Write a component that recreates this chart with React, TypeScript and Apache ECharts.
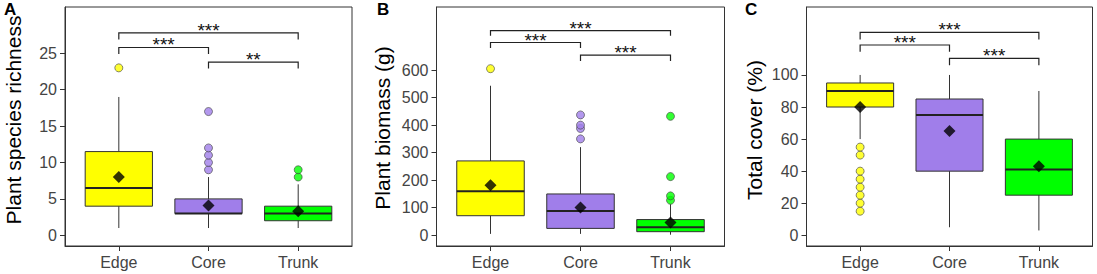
import React, { useEffect, useRef } from "react";
import * as echarts from "echarts";

const categories = ["Edge", "Core", "Trunk"];
const groupColors = ["#FFFF00", "#A07EEA", "#00FF00"];

// [low whisker, Q1, median, Q3, high whisker]
const richnessBox = [
  [1, 4, 6.5, 11.5, 19],
  [1, 3, 3, 5, 8],
  [1, 2, 3, 4, 7],
];
const richnessMean = [8, 4.1, 3.3];
const richnessOutliers = [[23], [9, 10, 11, 12, 17], [8, 9]];
const richnessTicks = [0, 5, 10, 15, 20, 25];
// [from, to, bracket y, tick end y]
const richnessBrackets = [
  [0, 2, 27.8, 26.9],
  [0, 1, 25.8, 24.9],
  [1, 2, 23.8, 22.9],
];
const richnessSig = ["***", "***", "**"];

const biomassBox = [
  [5, 71, 160, 270, 543],
  [5, 25, 88, 150, 320],
  [2, 13, 29, 57, 113],
];
const biomassMean = [182, 101, 46];
const biomassOutliers = [[605], [350, 388, 400, 437], [127, 143, 213, 432]];
const biomassTicks = [0, 100, 200, 300, 400, 500, 600];
const biomassBrackets = [
  [0, 2, 743, 725],
  [0, 1, 700, 680],
  [1, 2, 654, 633],
];
const biomassSig = ["***", "***", "***"];

const coverBox = [
  [60, 80, 90, 95, 100],
  [5, 40, 75, 85, 100],
  [3, 25, 41, 60, 90],
];
const coverMean = [80, 65, 43];
const coverOutliers = [[15, 20, 25, 30, 35, 40, 50, 55], [], []];
const coverTicks = [0, 20, 40, 60, 80, 100];
const coverBrackets = [
  [0, 2, 126.6, 122.2],
  [0, 1, 118.7, 114.5],
  [1, 2, 110.4, 106],
];
const coverSig = ["***", "***", "***"];

const yTitles = ["Plant species richness", "Plant biomass (g)", "Total cover (%)"];
const panelLetters = ["A", "B", "C"];

const FONT = "'Liberation Sans', Arial, Helvetica, sans-serif";

const grids = [
  { left: 65, top: 7, width: 287, height: 239 },
  { left: 436.5, top: 7, width: 288, height: 239 },
  { left: 806.5, top: 7, width: 286, height: 239 },
];
const yRanges = [
  [-1.47, 31.36],
  [-39, 829],
  [-6.7, 142.4],
];
const titlePos = [
  [13, 120],
  [382, 128],
  [754, 130],
];
const letterPos = [
  [4, 1],
  [377, 1],
  [745, 1],
];

function buildPanel(gi: number, box: number[][], means: number[], outliers: number[][], brackets: number[][], sig: string[]) {
  const boxSeries = {
    type: "custom",
    xAxisIndex: gi,
    yAxisIndex: gi,
    z: 2,
    data: box.map((b, i) => [i, ...b]),
    encode: { x: 0, y: [1, 2, 3, 4, 5] },
    renderItem: (params: any, api: any) => {
      const x = api.value(0);
      const lo = api.coord([x, api.value(1)]);
      const q1 = api.coord([x, api.value(2)]);
      const med = api.coord([x, api.value(3)]);
      const q3 = api.coord([x, api.value(4)]);
      const hi = api.coord([x, api.value(5)]);
      const hw = api.size([0.75, 0])[0] / 2;
      return {
        type: "group",
        children: [
          { type: "line", shape: { x1: hi[0], y1: hi[1], x2: lo[0], y2: lo[1] }, style: { stroke: "#333", lineWidth: 1 } },
          {
            type: "rect",
            shape: { x: q3[0] - hw, y: q3[1], width: hw * 2, height: q1[1] - q3[1] },
            style: { fill: groupColors[params.dataIndex], stroke: "#333", lineWidth: 1 },
          },
          { type: "line", shape: { x1: med[0] - hw, y1: med[1], x2: med[0] + hw, y2: med[1] }, style: { stroke: "#222", lineWidth: 2 } },
        ],
      };
    },
  };
  const outData: any[] = [];
  outliers.forEach((arr, i) => arr.forEach((v) => outData.push({ value: [i, v], itemStyle: { color: groupColors[i] } })));
  const outSeries = {
    type: "scatter",
    xAxisIndex: gi,
    yAxisIndex: gi,
    z: 3,
    symbol: "circle",
    symbolSize: 8,
    itemStyle: { borderColor: "#444", borderWidth: 0.8 },
    data: outData,
  };
  const meanSeries = {
    type: "scatter",
    xAxisIndex: gi,
    yAxisIndex: gi,
    z: 4,
    symbol: "diamond",
    symbolSize: 12,
    itemStyle: { color: "#000" },
    data: means.map((m, i) => [i, m]),
  };
  const bracketSeries = {
    type: "custom",
    xAxisIndex: gi,
    yAxisIndex: gi,
    z: 5,
    data: brackets,
    encode: { x: [0, 1], y: [2, 3] },
    renderItem: (params: any, api: any) => {
      const x1 = api.value(0), x2 = api.value(1), yl = api.value(2), ye = api.value(3);
      const a = api.coord([x1, ye]);
      const b = api.coord([x1, yl]);
      const c = api.coord([x2, yl]);
      const d = api.coord([x2, ye]);
      return {
        type: "group",
        children: [
          { type: "polyline", shape: { points: [a, b, c, d] }, style: { stroke: "#222", lineWidth: 1.2, fill: null } },
          {
            type: "text",
            x: (b[0] + c[0]) / 2,
            y: b[1] - 2.5,
            style: { text: sig[params.dataIndex], fill: "#111", fontSize: 19, fontFamily: FONT, align: "center", verticalAlign: "middle", textAlign: "center", textVerticalAlign: "middle" },
          },
        ],
      };
    },
  };
  return [boxSeries, outSeries, meanSeries, bracketSeries];
}

export default function App() {
  const ref = useRef<HTMLDivElement>(null);
  useEffect(() => {
    if (!ref.current) return;
    const chart = echarts.init(ref.current, undefined, { renderer: "svg" });
    const tickSets = [richnessTicks, biomassTicks, coverTicks];
    const option: any = {
      animation: false,
      backgroundColor: "#fff",
      grid: grids.map((g) => ({ ...g, show: true, borderColor: "#333", borderWidth: 1, backgroundColor: "transparent", containLabel: false })),
      xAxis: grids.map((_, gi) => ({
        type: "value",
        gridIndex: gi,
        min: -0.6,
        max: 2.6,
        splitLine: { show: false },
        axisLine: { show: true, onZero: false, lineStyle: { color: "#333", width: 1 } },
        axisTick: { show: true, customValues: [0, 1, 2], length: 5, lineStyle: { color: "#333", width: 1 } },
        axisLabel: {
          customValues: [0, 1, 2],
          formatter: (v: number) => categories[Math.round(v)],
          color: "#444",
          fontSize: 16,
          fontFamily: FONT,
          margin: 8,
        },
      })),
      yAxis: grids.map((_, gi) => ({
        type: "value",
        gridIndex: gi,
        min: yRanges[gi][0],
        max: yRanges[gi][1],
        splitLine: { show: false },
        axisLine: { show: true, onZero: false, lineStyle: { color: "#333", width: 1 } },
        axisTick: { show: true, customValues: tickSets[gi], length: 5, lineStyle: { color: "#333", width: 1 } },
        axisLabel: {
          customValues: tickSets[gi],
          color: "#444",
          fontSize: 16,
          fontFamily: FONT,
          margin: 8,
        },
      })),
      graphic: [
        ...yTitles.map((t, i) => ({
          type: "text",
          x: titlePos[i][0],
          y: titlePos[i][1],
          rotation: Math.PI / 2,
          style: { text: t, fill: "#000", fontSize: 21, fontFamily: FONT, align: "center", verticalAlign: "middle" },
        })),
        ...panelLetters.map((t, i) => ({
          type: "text",
          x: letterPos[i][0],
          y: letterPos[i][1],
          style: { text: t, fill: "#000", fontSize: 17, fontWeight: "bold", fontFamily: FONT, align: "left", verticalAlign: "top" },
        })),
      ],
      series: [
        ...buildPanel(0, richnessBox, richnessMean, richnessOutliers, richnessBrackets, richnessSig),
        ...buildPanel(1, biomassBox, biomassMean, biomassOutliers, biomassBrackets, biomassSig),
        ...buildPanel(2, coverBox, coverMean, coverOutliers, coverBrackets, coverSig),
      ],
    };
    chart.setOption(option);
    return () => chart.dispose();
  }, []);
  return <div ref={ref} style={{ position: "fixed", left: 0, top: 0, width: 1097, height: 274 }} />;
}
